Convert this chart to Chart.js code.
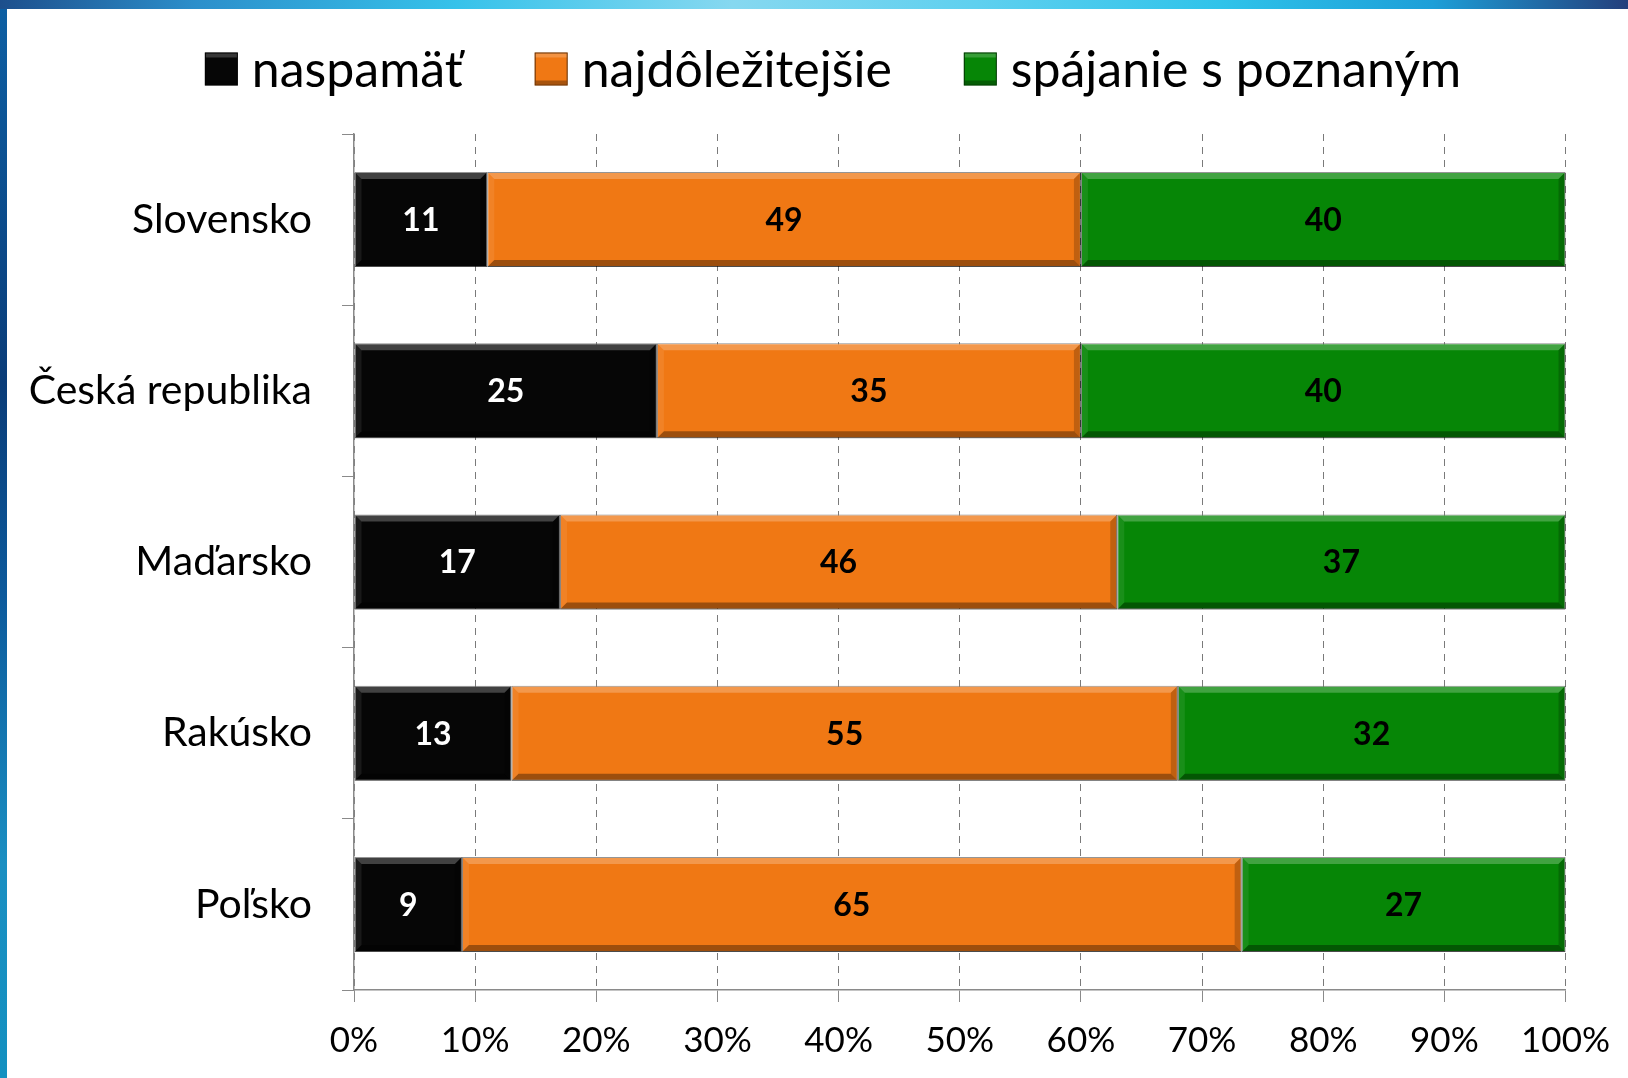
<!DOCTYPE html>
<html>
<head>
<meta charset="utf-8">
<script src="https://cdn.jsdelivr.net/npm/chart.js@4.4.1/dist/chart.umd.min.js"></script>
<style>
  html, body { margin: 0; padding: 0; }
  body {
    width: 1628px; height: 1078px; overflow: hidden; position: relative;
    background: linear-gradient(90deg, #1d4f8c 0%, #2c8fcb 12%, #36c2ea 28%, #86d8f0 45%, #5fd0ef 60%, #2fc3ea 75%, #1d9fd8 88%, #243f7c 100%);
  }
  #side {
    position: absolute; left: 0; top: 9px; width: 7px; height: 1069px;
    background: linear-gradient(180deg, #0d5fa3 0%, #0a3c78 35%, #0c5a9c 55%, #1a8fc2 80%, #1390c0 100%);
  }
  #paper { position: absolute; left: 7px; top: 9px; right: 0; bottom: 0; background: #fff; }
  #wrap { position: absolute; left: 0; top: 0; width: 1628px; height: 1078px; }
</style>
</head>
<body>
<div id="side"></div>
<div id="paper"></div>
<div id="wrap"><canvas id="chart" width="1628" height="1078"></canvas></div>
<script>
// 100% stacked bars
const categories = ["Slovensko", "Česká republika", "Maďarsko", "Rakúsko", "Poľsko"];
const seriesNames = ["naspamäť", "najdôležitejšie", "spájanie s poznaným"];
const naspamat = [11, 25, 17, 13, 9];
const najdolezitejsie = [49, 35, 46, 55, 65];
const spajanie = [40, 40, 37, 32, 27];
const xTicks = [0, 10, 20, 30, 40, 50, 60, 70, 80, 90, 100];

const colors = ["#060606", "#f07814", "#068606"];
const labelColors = ["#ffffff", "#000000", "#000000"];
const FONT = "Lato, 'Open Sans', sans-serif";

const raw = [naspamat, najdolezitejsie, spajanie];
const totals = categories.map((_, i) => raw.reduce((s, arr) => s + arr[i], 0));
const pct = arr => arr.map((v, i) => v / totals[i] * 100);

// bevel look of the bars
const bevelPlugin = {
  id: "bevel",
  afterDatasetsDraw(chart) {
    const ctx = chart.ctx;
    chart.data.datasets.forEach((ds, di) => {
      const meta = chart.getDatasetMeta(di);
      meta.data.forEach(bar => {
        const p = bar.getProps(["x", "y", "base", "height"], true);
        const l = Math.min(p.base, p.x), r = Math.max(p.base, p.x);
        const t = p.y - p.height / 2, b = p.y + p.height / 2;
        const e = 7;
        ctx.save();
        ctx.fillStyle = "rgba(255,255,255,0.24)";
        ctx.beginPath();
        ctx.moveTo(l, t); ctx.lineTo(r, t); ctx.lineTo(r - e, t + e); ctx.lineTo(l + e, t + e);
        ctx.closePath(); ctx.fill();
        ctx.fillStyle = "rgba(0,0,0,0.35)";
        ctx.beginPath();
        ctx.moveTo(l, b); ctx.lineTo(r, b); ctx.lineTo(r - e, b - e); ctx.lineTo(l + e, b - e);
        ctx.closePath(); ctx.fill();
        ctx.fillStyle = "rgba(0,0,0,0.2)";
        ctx.beginPath();
        ctx.moveTo(r, t); ctx.lineTo(r, b); ctx.lineTo(r - e, b - e); ctx.lineTo(r - e, t + e);
        ctx.closePath(); ctx.fill();
        ctx.fillStyle = "rgba(255,255,255,0.08)";
        ctx.beginPath();
        ctx.moveTo(l, t); ctx.lineTo(l, b); ctx.lineTo(l + e, b - e); ctx.lineTo(l + e, t + e);
        ctx.closePath(); ctx.fill();
        ctx.restore();
      });
    });
  }
};

// value labels in the middle of each segment
const valueLabels = {
  id: "valueLabels",
  afterDatasetsDraw(chart) {
    const ctx = chart.ctx;
    ctx.save();
    ctx.font = "bold 32px " + FONT;
    ctx.textAlign = "center";
    ctx.textBaseline = "middle";
    chart.data.datasets.forEach((ds, di) => {
      chart.getDatasetMeta(di).data.forEach((bar, i) => {
        const p = bar.getProps(["x", "y", "base"], true);
        ctx.fillStyle = labelColors[di];
        ctx.fillText(String(raw[di][i]), (p.x + p.base) / 2, p.y + 1);
      });
    });
    ctx.restore();
  }
};

// legend row on top
const topLegend = {
  id: "topLegend",
  afterDraw(chart) {
    const ctx = chart.ctx;
    const box = 33, gapText = 14, gapItem = 72, cy = 69, centerX = 833;
    ctx.save();
    ctx.font = "50px " + FONT;
    ctx.textBaseline = "middle";
    const widths = chart.data.datasets.map(ds => ctx.measureText(ds.label).width);
    const total = widths.reduce((s, w) => s + box + gapText + w, 0) + gapItem * (widths.length - 1);
    let x = centerX - total / 2;
    chart.data.datasets.forEach((ds, i) => {
      ctx.fillStyle = ds.backgroundColor;
      ctx.fillRect(x, cy - box / 2, box, box);
      ctx.strokeStyle = "rgba(0,0,0,0.6)";
      ctx.lineWidth = 1;
      ctx.strokeRect(x + 0.5, cy - box / 2 + 0.5, box - 1, box - 1);
      ctx.fillStyle = "rgba(255,255,255,0.2)";
      ctx.fillRect(x + 1, cy - box / 2 + 1, box - 2, 4);
      ctx.fillStyle = "rgba(0,0,0,0.3)";
      ctx.fillRect(x + 1, cy + box / 2 - 5, box - 2, 4);
      ctx.fillStyle = "#000";
      ctx.fillText(ds.label, x + box + gapText, cy + 2);
      x += box + gapText + widths[i] + gapItem;
    });
    ctx.restore();
  }
};

new Chart(document.getElementById("chart"), {
  type: "bar",
  data: {
    labels: categories,
    datasets: raw.map((arr, i) => ({
      label: seriesNames[i],
      data: pct(arr),
      backgroundColor: colors[i],
      borderColor: "rgba(0,0,0,0.55)",
      borderWidth: 1,
      borderSkipped: false,
      barPercentage: 0.555,
      categoryPercentage: 1
    }))
  },
  options: {
    indexAxis: "y",
    responsive: false,
    animation: false,
    layout: { padding: { left: 0, right: 59, top: 134, bottom: 0 } },
    plugins: {
      legend: { display: false },
      tooltip: { enabled: false }
    },
    scales: {
      x: {
        stacked: true,
        min: 0,
        max: 100,
        afterBuildTicks(scale) { scale.ticks = xTicks.map(v => ({ value: v })); },
        afterFit(scale) { scale.height = 88; },
        ticks: {
          callback: v => v + "%",
          color: "#000",
          font: { family: FONT, size: 35 },
          padding: 18,
          maxRotation: 0
        },
        grid: {
          color: "#7a7a7a",
          lineWidth: 1,
          tickLength: 12,
          tickBorderDash: [],
          tickColor: "#8a8a8a"
        },
        border: { color: "#8a8a8a", width: 1.5, dash: [7, 6] }
      },
      y: {
        stacked: true,
        afterFit(scale) { scale.width = 354; },
        ticks: {
          color: "#000",
          font: { family: FONT, size: 41 },
          padding: 30
        },
        grid: {
          offset: true,
          drawOnChartArea: false,
          tickLength: 12,
          color: "#8a8a8a"
        },
        border: { color: "#8a8a8a", width: 1.5 }
      }
    }
  },
  plugins: [bevelPlugin, valueLabels, topLegend]
});
</script>
</body>
</html>
